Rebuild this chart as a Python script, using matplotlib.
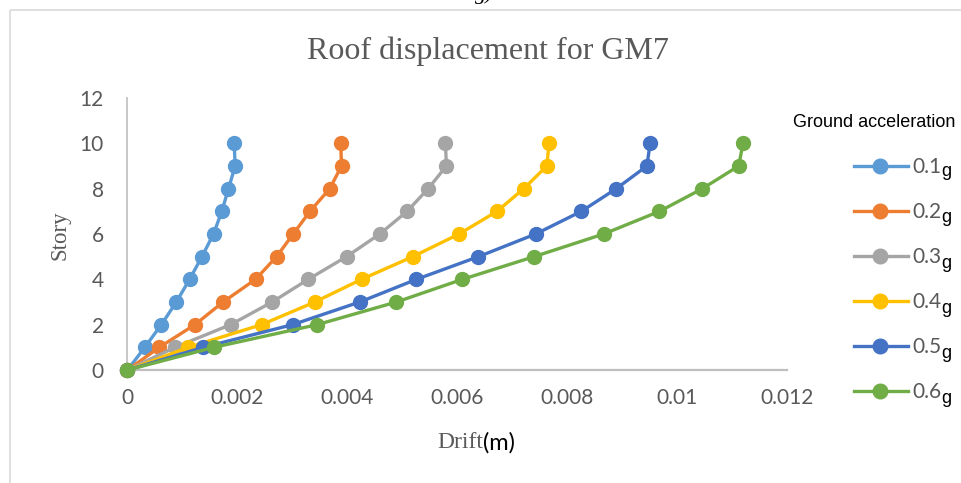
import matplotlib
matplotlib.use("Agg")
import matplotlib.pyplot as plt
from matplotlib.lines import Line2D
from matplotlib.patches import Rectangle

# Story levels and drift (m) for each ground-acceleration level
stories = [0, 1, 2, 3, 4, 5, 6, 7, 8, 9, 10]
drift_01g = [0, 0.000314, 0.000616, 0.000888, 0.00113, 0.001354, 0.001565, 0.001716, 0.001837, 0.00196, 0.00194]
drift_02g = [0, 0.000579, 0.001227, 0.00174, 0.00233, 0.002712, 0.003015, 0.00332, 0.00368, 0.003894, 0.00388]
drift_03g = [0, 0.000864, 0.001876, 0.002633, 0.003288, 0.003985, 0.00459, 0.005088, 0.00547, 0.005803, 0.005785]
drift_04g = [0, 0.001106, 0.00244, 0.003409, 0.004258, 0.005190, 0.006033, 0.006724, 0.00721, 0.00763, 0.00767]
drift_05g = [0, 0.001379, 0.003003, 0.004227, 0.005258, 0.006385, 0.007427, 0.008258, 0.008894, 0.00945, 0.00951]
drift_06g = [0, 0.001573, 0.00345, 0.004894, 0.006094, 0.007397, 0.008664, 0.00968, 0.01046, 0.01112, 0.0112]

levels = ["0.1", "0.2", "0.3", "0.4", "0.5", "0.6"]
series = [drift_01g, drift_02g, drift_03g, drift_04g, drift_05g, drift_06g]
colors = ["#5B9BD5", "#ED7D31", "#A5A5A5", "#FFC000", "#4472C4", "#70AD47"]

x_ticks = [0, 0.002, 0.004, 0.006, 0.008, 0.01, 0.012]
x_tick_labels = ["0", "0.002", "0.004", "0.006", "0.008", "0.01", "0.012"]
y_ticks = [0, 2, 4, 6, 8, 10, 12]

W, H = 962, 483
TEXT_GRAY = "#595959"
SERIF = "Liberation Serif"
SANS = "Liberation Sans"
TICK_FONT = "Lato"


def px(x, y):
    """Pixel position (from the top-left corner) to figure fraction."""
    return x / W, 1 - y / H


fig = plt.figure(figsize=(W / 100, H / 100), dpi=100)

# Chart-area frame (runs off the right and bottom edges)
fig.add_artist(Rectangle(px(9.5, 9.5), 1.2, -1.2, transform=fig.transFigure,
                         fill=False, edgecolor="#D9D9D9", linewidth=1.2))

# Panel caption, mostly above the top edge
fig.text(*px(484, -1), "g)", ha="center", va="baseline", fontsize=16,
         family=SERIF, style="italic", color="black")

l, b = px(127.5, 370)
r, t = px(787, 98)
ax = fig.add_axes([l, b, r - l, t - b])

for vals, c in zip(series, colors):
    ax.plot(vals, stories, color=c, linewidth=2.4, marker="o",
            markersize=10, clip_on=False, zorder=3)

ax.set_xlim(0, 0.012)
ax.set_ylim(0, 12)
ax.set_xticks(x_ticks)
ax.set_xticklabels(x_tick_labels)
ax.set_yticks(y_ticks)
ax.tick_params(length=0, labelsize=15, labelcolor=TEXT_GRAY)
ax.tick_params(axis="x", pad=13)
ax.tick_params(axis="y", pad=17)
for lab in ax.get_xticklabels() + ax.get_yticklabels():
    lab.set_family(TICK_FONT)

for side in ("top", "right"):
    ax.spines[side].set_visible(False)
ax.spines["left"].set_color("#BFBFBF")
ax.spines["left"].set_linewidth(1.2)
ax.spines["bottom"].set_color("#BFBFBF")
ax.spines["bottom"].set_linewidth(1.6)
ax.spines["left"].set_zorder(1)
ax.spines["bottom"].set_zorder(1)

# Title and axis titles
fig.text(*px(488, 59), "Roof displacement for GM7", ha="center", va="baseline",
         fontsize=23, family=SERIF, color=TEXT_GRAY)
fig.text(*px(60, 235), "Story", ha="center", va="center", rotation=90,
         fontsize=16.5, family=SERIF, color=TEXT_GRAY)
fig.text(*px(483, 448), "Drift", ha="right", va="baseline",
         fontsize=17, family=SERIF, color=TEXT_GRAY)
fig.text(*px(483, 450), "(m)", ha="left", va="baseline",
         fontsize=17, family=TICK_FONT, color="black")

# Legend
fig.text(*px(793, 127), "Ground acceleration", ha="left", va="baseline",
         fontsize=13, family=SANS, color="black")
for i, (lev, c) in enumerate(zip(levels, colors)):
    y = 166 + 45 * i
    x0, yy = px(854, y)
    x1, _ = px(908, y)
    xm, _ = px(880, y)
    fig.add_artist(Line2D([x0, x1], [yy, yy], transform=fig.transFigure,
                          color=c, linewidth=2.4))
    fig.add_artist(Line2D([xm], [yy], transform=fig.transFigure, color=c,
                          marker="o", markersize=10.5, linestyle="none"))
    fig.text(*px(912.5, y + 7), lev, ha="left", va="baseline",
             fontsize=15, family=TICK_FONT, color=TEXT_GRAY)
    fig.text(*px(941.5, y + 10 + min(i, 2)), "g", ha="left", va="baseline",
             fontsize=13, family=SANS, color="black")

fig.savefig("out.png", dpi=100)
